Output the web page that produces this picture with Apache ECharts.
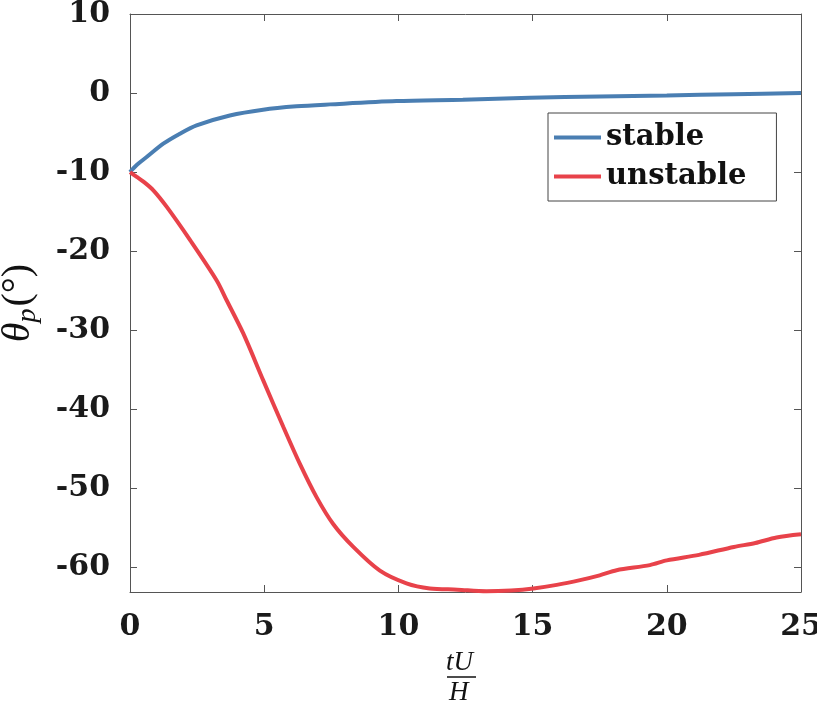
<!DOCTYPE html>
<html>
<head>
<meta charset="utf-8">
<script src="https://cdn.jsdelivr.net/npm/echarts@6/dist/echarts.min.js"></script>
<style>
  html, body { margin: 0; padding: 0; background: #fff; }
  #chart { width: 817px; height: 705px; }
</style>
</head>
<body>
<div id="chart"></div>
<script>
// 稳定曲线 (tU/H, θp)
const stableX = [0, 0.25, 0.62, 1.24, 1.86, 2.48, 3.72, 4.96, 6.2, 7.45, 9.93, 12.4, 14.9, 17.5, 20, 22.5, 25];
const stableY = [-10, -9.1, -8.09, -6.4, -5.13, -4.08, -2.83, -2.1, -1.68, -1.43, -1.01, -0.83, -0.58, -0.42, -0.3, -0.15, 0];

// 不稳定曲线
const unstableX = [0, 0.25, 0.5, 0.87, 1.37, 2.24, 3.23, 3.6, 4.22, 4.96, 5.71, 6.33, 6.95, 7.57, 8.32, 9.31, 10.3, 11.17, 12.2, 13.28, 14.2, 15.03, 15.9, 16.77, 17.5, 18.13, 19.37, 20, 21.2, 22.5, 23.3, 24.09, 25];
const unstableY = [-10, -10.6, -11.2, -12.3, -14.4, -18.6, -23.7, -26.2, -30.4, -36.3, -42.2, -46.9, -51.1, -54.5, -57.4, -60.4, -62.0, -62.65, -62.8, -63.0, -62.9, -62.65, -62.2, -61.6, -61.0, -60.35, -59.7, -59.1, -58.4, -57.4, -56.9, -56.2, -55.8];

const xTicks = [0, 5, 10, 15, 20, 25];
const yTicks = [-60, -50, -40, -30, -20, -10, 0, 10];

function zip(xs, ys) {
  return xs.map((x, i) => [x, ys[i]]);
}

const axisColor = "#555";
const labelFont = {
  fontFamily: "DejaVu Serif",
  fontWeight: "bold",
  fontSize: 30,
  color: "#1a1a1a",
};

// 框线和向内刻度
function boxAxis(extra) {
  return Object.assign({
    type: "value",
    axisLine: { show: true, onZero: false, lineStyle: { color: axisColor, width: 1 } },
    axisTick: { show: true, inside: true, length: 7, lineStyle: { color: axisColor } },
    splitLine: { show: false },
  }, extra);
}

const chart = echarts.init(document.getElementById("chart"), null, { renderer: "canvas" });

const option = {
  animation: false,
  backgroundColor: "#fff",
  grid: { left: 130, top: 14, right: 16, bottom: 113, containLabel: false, outerBoundsMode: "none" },
  legend: {
    orient: "vertical",
    left: 548,
    top: 113,
    padding: [10, 30, 10, 6],
    itemGap: 10,
    itemWidth: 47,
    itemHeight: 4,
    icon: "rect",
    borderColor: "#444",
    borderWidth: 1,
    borderRadius: 0,
    backgroundColor: "#fff",
    textStyle: Object.assign({}, labelFont, { fontSize: 29, color: "#111" }),
    data: ["stable", "unstable"],
  },
  xAxis: [
    boxAxis({
      min: 0,
      max: 25,
      interval: 5,
      axisLabel: Object.assign({ margin: 20, customValues: xTicks }, labelFont),
      axisTick: { show: true, inside: true, length: 7, customValues: xTicks, lineStyle: { color: axisColor } },
    }),
    boxAxis({
      position: "top",
      min: 0,
      max: 25,
      interval: 5,
      axisLabel: { show: false },
    }),
  ],
  yAxis: [
    boxAxis({
      min: -63.1,
      max: 10,
      axisTick: { show: true, inside: true, length: 7, customValues: yTicks, lineStyle: { color: axisColor } },
      axisLabel: Object.assign({ margin: 20, customValues: yTicks }, labelFont),
      name: "{a|θ}{b|p}{c|(°)}",
      nameLocation: "middle",
      nameRotate: 90,
      nameGap: 88,
      nameTextStyle: {
        rich: {
          a: { fontFamily: "Liberation Serif", fontStyle: "italic", fontSize: 40, color: "#111", lineHeight: 44, verticalAlign: "top" },
          b: { fontFamily: "Liberation Serif", fontStyle: "italic", fontSize: 28, color: "#111", lineHeight: 28, padding: [22, 2, 0, 0], verticalAlign: "bottom" },
          c: { fontFamily: "Liberation Serif", fontSize: 40, color: "#111", lineHeight: 44, verticalAlign: "top" },
        },
      },
    }),
    boxAxis({
      position: "right",
      min: -63.1,
      max: 10,
      axisTick: { show: true, inside: true, length: 7, customValues: yTicks, lineStyle: { color: axisColor } },
      axisLabel: { show: false },
    }),
  ],
  graphic: [
    {
      type: "text",
      left: 446,
      top: 649,
      style: { text: "tU", fontFamily: "Liberation Serif", fontStyle: "italic", fontSize: 27, fill: "#111" },
    },
    {
      type: "line",
      shape: { x1: 447, y1: 677, x2: 476, y2: 677 },
      style: { stroke: "#111", lineWidth: 1.5 },
    },
    {
      type: "text",
      left: 449,
      top: 679,
      style: { text: "H", fontFamily: "Liberation Serif", fontStyle: "italic", fontSize: 27, fill: "#111" },
    },
  ],
  series: [
    {
      name: "stable",
      type: "line",
      data: zip(stableX, stableY),
      showSymbol: false,
      symbol: "none",
      smooth: 0.3,
      lineStyle: { width: 4, color: "#4a7eb2" },
      itemStyle: { color: "#4a7eb2" },
    },
    {
      name: "unstable",
      type: "line",
      data: zip(unstableX, unstableY),
      showSymbol: false,
      symbol: "none",
      smooth: 0.3,
      lineStyle: { width: 4, color: "#e8424a" },
      itemStyle: { color: "#e8424a" },
    },
  ],
};

chart.setOption(option);
</script>
</body>
</html>
